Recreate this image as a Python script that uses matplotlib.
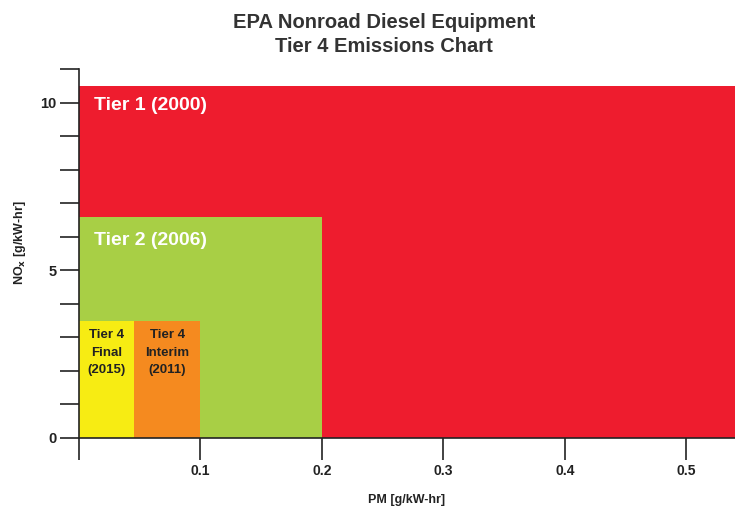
import numpy as np
import matplotlib.pyplot as plt
from matplotlib.patches import Rectangle

# limites de cada tier (PM em g/kW-hr, NOx em g/kW-hr)
tiers = ['Tier 1 (2000)', 'Tier 2 (2006)', 'Tier 4\nInterim\n(2011)', 'Tier 4\nFinal\n(2015)']
pm_limits = [0.54, 0.2, 0.1, 0.045]
nox_limits = [10.5, 6.6, 3.5, 3.5]
colors = ['#EE1C2E', '#A8CF45', '#F58A1F', '#F7EC13']

x_ticks = [0.1, 0.2, 0.3, 0.4, 0.5]
y_ticks = [0, 5, 10]

plt.rcParams['font.family'] = ['Liberation Sans', 'DejaVu Sans']

fig = plt.figure(figsize=(7.35, 5.08), dpi=100)
ax = fig.add_axes([0.1075, 0.1378, 0.8925, 0.726])

for name, pm, nox, c in zip(tiers, pm_limits, nox_limits, colors):
    ax.add_patch(Rectangle((0, 0), pm, nox, facecolor=c, edgecolor='none', zorder=1))

# textos dos tiers
ax.text(0.012, nox_limits[0] - 0.58, tiers[0], color='white', fontsize=14,
        fontweight='bold', ha='left', va='center')
ax.text(0.012, nox_limits[1] - 0.7, tiers[1], color='white', fontsize=14,
        fontweight='bold', ha='left', va='center')
ax.text(pm_limits[3] / 2, nox_limits[3] - 0.25, tiers[3], color='#222222', fontsize=9.5,
        fontweight='bold', ha='center', va='top', linespacing=1.62)
ax.text((pm_limits[3] + pm_limits[2]) / 2, nox_limits[2] - 0.25, tiers[2], color='#222222',
        fontsize=9.5, fontweight='bold', ha='center', va='top', linespacing=1.62)

ax.set_xlim(0, 0.54)
ax.set_ylim(0, 11)

ax.spines['top'].set_visible(False)
ax.spines['right'].set_visible(False)
for s in ['left', 'bottom']:
    ax.spines[s].set_linewidth(1.2)
    ax.spines[s].set_color('#222222')
    ax.spines[s].set_zorder(3)

ax.set_xticks([0] + x_ticks)
ax.set_xticklabels([''] + [str(t) for t in x_ticks])
ax.set_yticks(y_ticks)
ax.set_yticklabels([str(t) for t in y_ticks])
ax.set_yticks(np.arange(0, 12, 1), minor=True)
ax.tick_params(axis='x', direction='out', length=16, width=1.2, pad=3,
               labelsize=10, colors='#222222')
ax.tick_params(axis='y', which='both', direction='out', length=14, width=1.2, pad=2,
               labelsize=10.5, colors='#222222')
for lbl in ax.get_xticklabels() + ax.get_yticklabels():
    lbl.set_fontweight('bold')

ax.set_xlabel('PM [g/kW-hr]', fontsize=9, fontweight='bold', color='#222222', labelpad=11)
ax.set_ylabel('NO$_\\mathbf{x}$ [g/kW-hr]', fontsize=9, fontweight='bold', color='#222222',
              labelpad=9)
ax.yaxis.set_label_coords(-0.078, 0.53)

fig.text(0.522, 0.975, 'EPA Nonroad Diesel Equipment\nTier 4 Emissions Chart',
         ha='center', va='top', fontsize=14.5, fontweight='bold', color='#333333',
         linespacing=1.35)

plt.savefig('out.png', dpi=100)
